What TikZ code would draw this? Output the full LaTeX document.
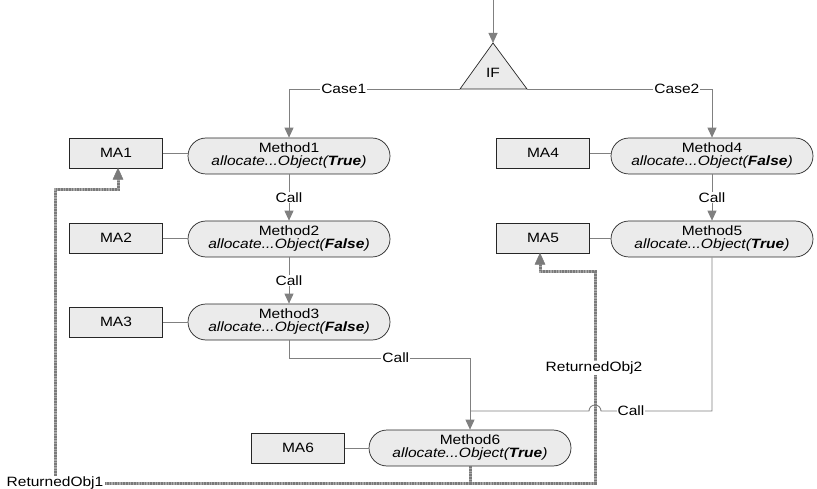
\documentclass[tikz,border=0pt]{standalone}
\usepackage{fontspec}
\setmainfont[FakeStretch=1.15]{Liberation Sans}
\usetikzlibrary{shapes.misc,arrows.meta}
\definecolor{nodefill}{HTML}{EBEBEB}
\definecolor{conn}{HTML}{808080}
\definecolor{retc}{HTML}{7A7A7A}
\definecolor{retlight}{HTML}{A8A8A8}
\tikzset{
  txt/.style={font=\fontsize{13.5}{15}\selectfont},
  method/.style={txt, rounded rectangle, draw=black!85, line width=0.7pt, fill=nodefill,
     minimum width=204pt, minimum height=36pt, inner sep=1pt, align=center},
  mabox/.style={txt, rectangle, draw=black!85, line width=0.7pt, fill=nodefill,
     minimum width=93pt, minimum height=30pt, inner sep=1pt},
  conn/.style={draw=conn, line width=0.9pt},
  arr/.style={conn, -{Triangle[length=10pt,width=9pt]}},
  lbl/.style={txt, fill=white, inner sep=1pt},
  retbase/.style={draw=retlight, line width=3pt},
  ret/.style={draw=retc, line width=3pt, dash pattern=on 1.5pt off 1.2pt},
  retarr/.style={draw=retc, fill=retc, line width=0.5pt},
}
\newcommand{\meth}[2]{Method#1\\[-2pt]\textit{allocate...Object(\textbf{#2})}}
\begin{document}
\begin{tikzpicture}[x=1pt,y=-1pt]
\useasboundingbox (0,0) rectangle (817,489);
% IF triangle
\coordinate (top) at (493,0);
\coordinate (ifT) at (493,43);
\coordinate (ifL) at (460,89);
\coordinate (ifR) at (527,89);
\draw[black!85, line width=0.7pt, fill=nodefill] (ifT) -- (ifR) -- (ifL) -- cycle;
\node[txt] (if) at (493,73) {IF};
\draw[arr] (top) -- (ifT);
% methods
\node[method] (m1) at (289,156) {\meth{1}{True}};
\node[method] (m2) at (289,239) {\meth{2}{False}};
\node[method] (m3) at (289,322) {\meth{3}{False}};
\node[method] (m4) at (712,156) {\meth{4}{False}};
\node[method] (m5) at (712,239) {\meth{5}{True}};
\node[method] (m6) at (470,448) {\meth{6}{True}};
% MA boxes
\node[mabox] (ma1) at (116,153) {MA1};
\node[mabox] (ma2) at (116,238) {MA2};
\node[mabox] (ma3) at (116,322) {MA3};
\node[mabox] (ma4) at (543,153) {MA4};
\node[mabox] (ma5) at (543,238) {MA5};
\node[mabox] (ma6) at (298,448) {MA6};
% MA links
\foreach \a/\b in {ma1/m1,ma2/m2,ma3/m3,ma4/m4,ma5/m5,ma6/m6}
  \draw[conn] (\a.east) -- (\a.east -| \b.west);
% cases
\draw[arr] (ifL) -- node[lbl, pos=0.68] (c1) {Case1} (289,89) -- (m1.north);
\draw[arr] (ifR) -- node[lbl, pos=0.81] (c2) {Case2} (712,89) -- (m4.north);
% calls
\draw[arr] (m1.south) -- node[lbl] (k1) {Call} (m2.north);
\draw[arr] (m2.south) -- node[lbl] (k2) {Call} (m3.north);
\draw[arr] (m4.south) -- node[lbl] (k4) {Call} (m5.north);
\draw[arr] (m3.south) -- (289,358) -- node[lbl, pos=0.59] (k3) {Call} (470,358) -- (m6.north);
\coordinate (join) at (470,411);
\draw[conn] (m5.south) -- (712,411) -- node[lbl, pos=0.73] (k5) {Call} (601,411)
   arc[start angle=0, end angle=180, radius=6pt] -- (join);
% returns
\coordinate (rb) at (470,483);
\node[txt, inner sep=1pt] (r1) at (55,483) {ReturnedObj1};
\coordinate (c1a) at (55,190);
\coordinate (c1b) at (118,190);
\coordinate (c2a) at (595,483);
\coordinate (c2b) at (595,272);
\coordinate (c2c) at (540,272);
\coordinate (t1) at (c1b |- ma1.south);
\coordinate (t2) at (c2c |- ma5.south);
\foreach \s in {retbase,ret} {
  \draw[\s] (m6.south) -- (rb) -- (r1.east);
  \draw[\s] (r1.north) -- (c1a) -- (c1b) -- ([yshift=-8pt]t1);
  \draw[\s] (rb) -- (c2a) -- (c2b) -- (c2c) -- ([yshift=-8pt]t2);
}
\draw[retarr] (t1) -- ([xshift=-5pt,yshift=-11pt]t1) -- ([xshift=5pt,yshift=-11pt]t1) -- cycle;
\draw[retarr] (t2) -- ([xshift=-5pt,yshift=-11pt]t2) -- ([xshift=5pt,yshift=-11pt]t2) -- cycle;
\node[lbl] (r2) at (594,368) {ReturnedObj2};
\end{tikzpicture}
\end{document}
